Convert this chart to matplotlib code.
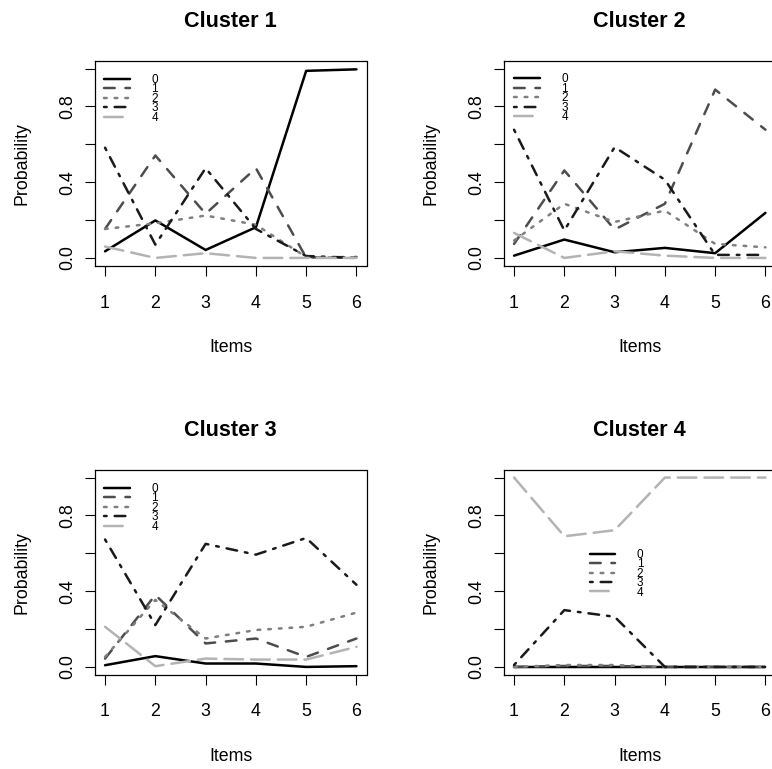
import matplotlib
matplotlib.use("Agg")
import matplotlib.pyplot as plt

items = [1, 2, 3, 4, 5, 6]
categories = ["0", "1", "2", "3", "4"]
titles = ["Cluster 1", "Cluster 2", "Cluster 3", "Cluster 4"]

# one row per category (0..4), one value per item
cluster1_probs = [
    [0.035, 0.198, 0.042, 0.162, 0.988, 0.996],
    [0.153, 0.541, 0.233, 0.474, 0.002, 0.005],
    [0.153, 0.183, 0.224, 0.175, 0.005, 0.000],
    [0.582, 0.070, 0.474, 0.153, 0.010, 0.000],
    [0.060, 0.000, 0.025, 0.000, 0.000, 0.000],
]
cluster2_probs = [
    [0.012, 0.097, 0.030, 0.053, 0.025, 0.238],
    [0.074, 0.462, 0.150, 0.286, 0.889, 0.677],
    [0.092, 0.286, 0.190, 0.250, 0.074, 0.056],
    [0.677, 0.145, 0.585, 0.413, 0.016, 0.016],
    [0.132, 0.000, 0.035, 0.012, 0.000, 0.000],
]
cluster3_probs = [
    [0.009, 0.057, 0.018, 0.018, 0.000, 0.004],
    [0.044, 0.380, 0.124, 0.150, 0.053, 0.150],
    [0.053, 0.354, 0.150, 0.195, 0.212, 0.287],
    [0.673, 0.221, 0.650, 0.593, 0.681, 0.434],
    [0.212, 0.004, 0.044, 0.039, 0.039, 0.106],
]
cluster4_probs = [
    [0.000, 0.000, 0.000, 0.000, 0.000, 0.000],
    [0.000, 0.005, 0.005, 0.000, 0.000, 0.000],
    [0.000, 0.010, 0.010, 0.000, 0.000, 0.000],
    [0.010, 0.300, 0.265, 0.000, 0.000, 0.000],
    [1.000, 0.690, 0.722, 1.000, 1.000, 1.000],
]

PX = 0.72  # points per pixel at dpi 100
COLORS = ["#000000", "#4d4d4d", "#7f7f7f", "#1a1a1a", "#b3b3b3"]
DASHES = [
    None,
    (0, (10.7 * PX, 10.7 * PX)),
    (0, (2.67 * PX, 8 * PX)),
    (0, (2.67 * PX, 8 * PX, 10.7 * PX, 8 * PX)),
    (0, (18.7 * PX, 8 * PX)),
]

plt.rcParams["font.family"] = ["Liberation Sans", "DejaVu Sans"]
plt.rcParams["lines.scale_dashes"] = False


def draw_panel(ax, title, probs, legend_anchor):
    for k, row in enumerate(probs):
        style = "-" if DASHES[k] is None else DASHES[k]
        ax.plot(items, row, color=COLORS[k], linestyle=style, linewidth=2.5 * PX,
                dash_capstyle="round", solid_capstyle="round",
                solid_joinstyle="round", dash_joinstyle="round",
                label=categories[k])
    ax.set_xlim(0.8, 6.2)
    ax.set_ylim(-0.04, 1.04)
    ax.set_xticks(items)
    ax.set_yticks([0, 0.2, 0.4, 0.6, 0.8, 1.0])
    ax.set_yticklabels(["0.0", "", "0.4", "", "0.8", ""], rotation=90, va="center")
    ax.tick_params(axis="both", direction="out", length=10 * PX, width=0.8,
                   labelsize=12.8, color="black")
    ax.tick_params(axis="x", pad=19 * PX)
    ax.tick_params(axis="y", pad=9 * PX)
    for sp in ax.spines.values():
        sp.set_linewidth(0.9)
    ax.set_title(title, fontsize=15.6, fontweight="bold", pad=34 * PX)
    ax.set_xlabel("Items", fontsize=12.8)
    ax.set_ylabel("Probability", fontsize=12.8)
    ax.xaxis.set_label_coords(0.5, -0.357)
    ax.yaxis.set_label_coords(-0.238, 0.5)
    ax.legend(loc="upper left", bbox_to_anchor=legend_anchor, frameon=False,
              fontsize=8.5, labelspacing=-0.22, handlelength=2.2,
              handletextpad=1.8, borderpad=0, borderaxespad=0)


def main():
    fig = plt.figure(figsize=(7.72, 7.69), dpi=100)
    w, h = 271.5 / 772, 204.5 / 769
    lefts = [95 / 772, 504 / 772]
    bottoms = [1 - 265.5 / 769, 1 - 674.5 / 769]
    all_probs = [cluster1_probs, cluster2_probs, cluster3_probs, cluster4_probs]
    anchors = [(0.034, 0.936), (0.037, 0.939), (0.034, 0.936), (0.315, 0.614)]
    for i in range(4):
        ax = fig.add_axes([lefts[i % 2], bottoms[i // 2], w, h])
        draw_panel(ax, titles[i], all_probs[i], anchors[i])
    fig.savefig("out.png", dpi=100)


if __name__ == "__main__":
    main()
